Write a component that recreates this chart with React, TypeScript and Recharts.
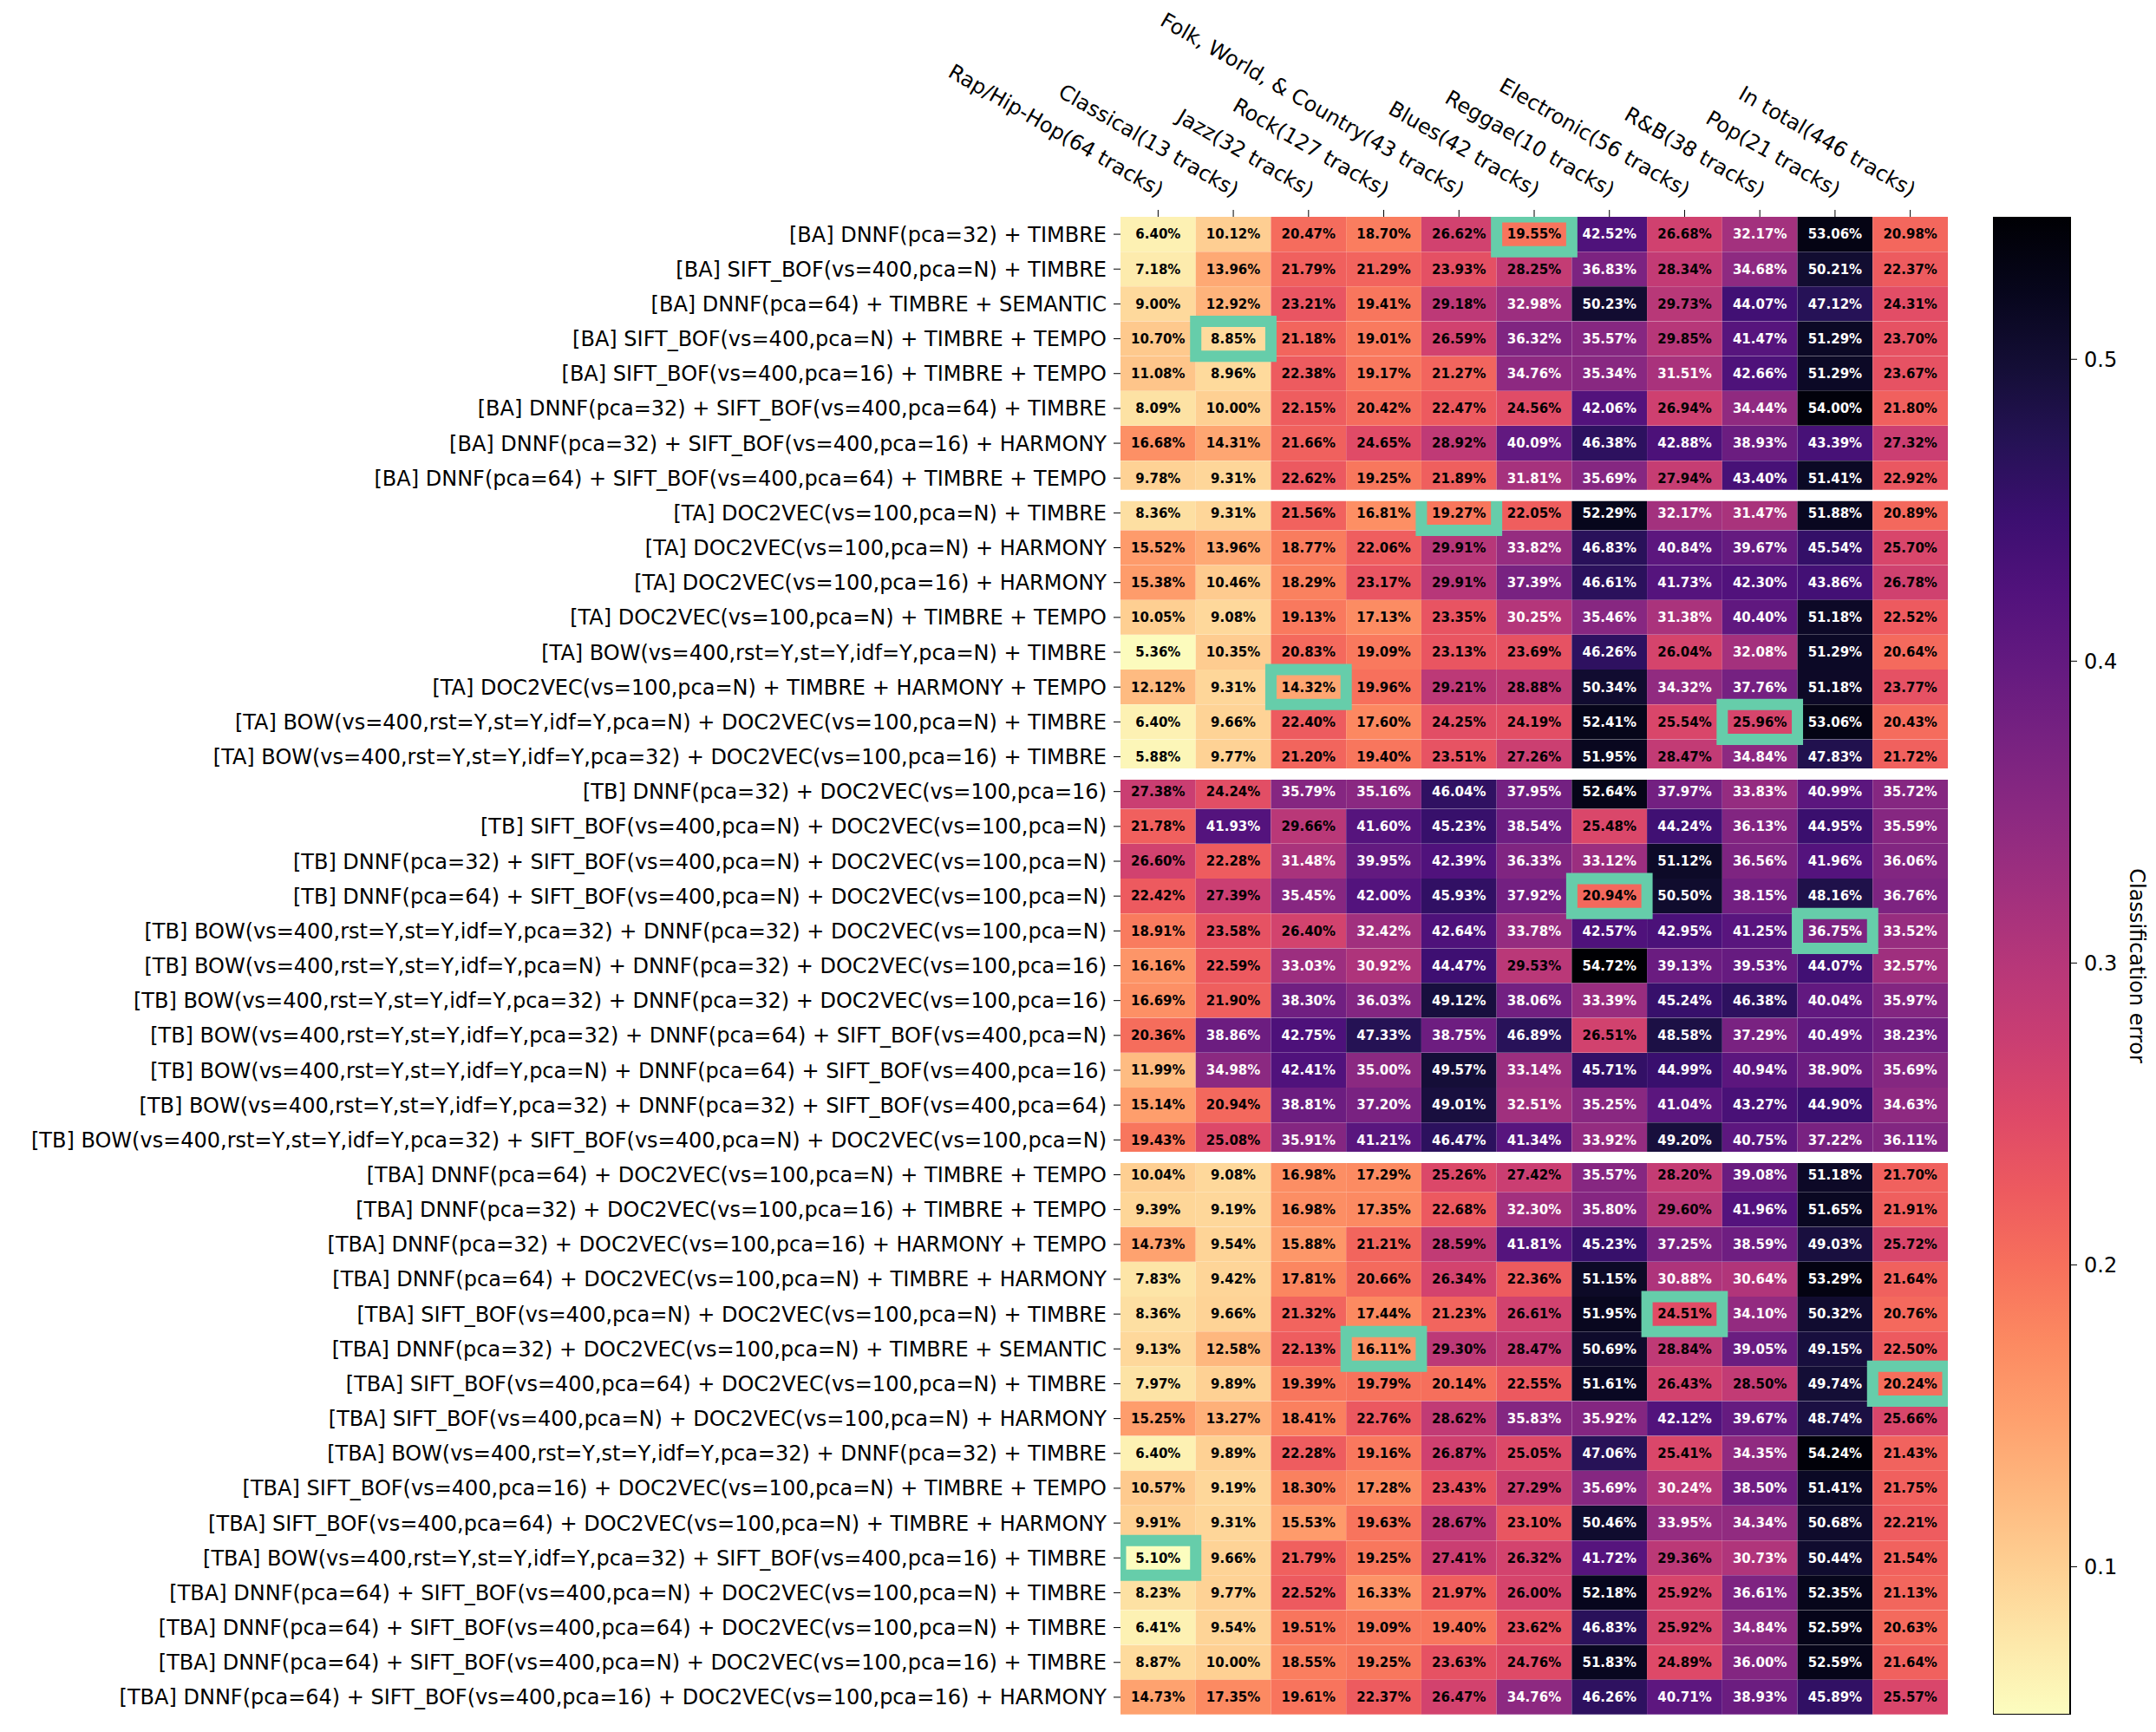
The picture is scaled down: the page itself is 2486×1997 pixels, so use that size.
import React from "react";
import {
  Bar,
  BarChart,
  Cell,
  LabelList,
  ReferenceArea,
  ReferenceLine,
  XAxis,
  YAxis,
} from "recharts";

// column headers (genres)
const genres = [
  "Rap/Hip-Hop(64 tracks)",
  "Classical(13 tracks)",
  "Jazz(32 tracks)",
  "Rock(127 tracks)",
  "Folk, World, & Country(43 tracks)",
  "Blues(42 tracks)",
  "Reggae(10 tracks)",
  "Electronic(56 tracks)",
  "R&B(38 tracks)",
  "Pop(21 tracks)",
  "In total(446 tracks)",
];

// row labels, one list per group
const baLabels = [
  "[BA] DNNF(pca=32) + TIMBRE",
  "[BA] SIFT_BOF(vs=400,pca=N) + TIMBRE",
  "[BA] DNNF(pca=64) + TIMBRE + SEMANTIC",
  "[BA] SIFT_BOF(vs=400,pca=N) + TIMBRE + TEMPO",
  "[BA] SIFT_BOF(vs=400,pca=16) + TIMBRE + TEMPO",
  "[BA] DNNF(pca=32) + SIFT_BOF(vs=400,pca=64) + TIMBRE",
  "[BA] DNNF(pca=32) + SIFT_BOF(vs=400,pca=16) + HARMONY",
  "[BA] DNNF(pca=64) + SIFT_BOF(vs=400,pca=64) + TIMBRE + TEMPO",
];
const taLabels = [
  "[TA] DOC2VEC(vs=100,pca=N) + TIMBRE",
  "[TA] DOC2VEC(vs=100,pca=N) + HARMONY",
  "[TA] DOC2VEC(vs=100,pca=16) + HARMONY",
  "[TA] DOC2VEC(vs=100,pca=N) + TIMBRE + TEMPO",
  "[TA] BOW(vs=400,rst=Y,st=Y,idf=Y,pca=N) + TIMBRE",
  "[TA] DOC2VEC(vs=100,pca=N) + TIMBRE + HARMONY + TEMPO",
  "[TA] BOW(vs=400,rst=Y,st=Y,idf=Y,pca=N) + DOC2VEC(vs=100,pca=N) + TIMBRE",
  "[TA] BOW(vs=400,rst=Y,st=Y,idf=Y,pca=32) + DOC2VEC(vs=100,pca=16) + TIMBRE",
];
const tbLabels = [
  "[TB] DNNF(pca=32) + DOC2VEC(vs=100,pca=16)",
  "[TB] SIFT_BOF(vs=400,pca=N) + DOC2VEC(vs=100,pca=N)",
  "[TB] DNNF(pca=32) + SIFT_BOF(vs=400,pca=N) + DOC2VEC(vs=100,pca=N)",
  "[TB] DNNF(pca=64) + SIFT_BOF(vs=400,pca=N) + DOC2VEC(vs=100,pca=N)",
  "[TB] BOW(vs=400,rst=Y,st=Y,idf=Y,pca=32) + DNNF(pca=32) + DOC2VEC(vs=100,pca=N)",
  "[TB] BOW(vs=400,rst=Y,st=Y,idf=Y,pca=N) + DNNF(pca=32) + DOC2VEC(vs=100,pca=16)",
  "[TB] BOW(vs=400,rst=Y,st=Y,idf=Y,pca=32) + DNNF(pca=32) + DOC2VEC(vs=100,pca=16)",
  "[TB] BOW(vs=400,rst=Y,st=Y,idf=Y,pca=32) + DNNF(pca=64) + SIFT_BOF(vs=400,pca=N)",
  "[TB] BOW(vs=400,rst=Y,st=Y,idf=Y,pca=N) + DNNF(pca=64) + SIFT_BOF(vs=400,pca=16)",
  "[TB] BOW(vs=400,rst=Y,st=Y,idf=Y,pca=32) + DNNF(pca=32) + SIFT_BOF(vs=400,pca=64)",
  "[TB] BOW(vs=400,rst=Y,st=Y,idf=Y,pca=32) + SIFT_BOF(vs=400,pca=N) + DOC2VEC(vs=100,pca=N)",
];
const tbaLabels = [
  "[TBA] DNNF(pca=64) + DOC2VEC(vs=100,pca=N) + TIMBRE + TEMPO",
  "[TBA] DNNF(pca=32) + DOC2VEC(vs=100,pca=16) + TIMBRE + TEMPO",
  "[TBA] DNNF(pca=32) + DOC2VEC(vs=100,pca=16) + HARMONY + TEMPO",
  "[TBA] DNNF(pca=64) + DOC2VEC(vs=100,pca=N) + TIMBRE + HARMONY",
  "[TBA] SIFT_BOF(vs=400,pca=N) + DOC2VEC(vs=100,pca=N) + TIMBRE",
  "[TBA] DNNF(pca=32) + DOC2VEC(vs=100,pca=N) + TIMBRE + SEMANTIC",
  "[TBA] SIFT_BOF(vs=400,pca=64) + DOC2VEC(vs=100,pca=N) + TIMBRE",
  "[TBA] SIFT_BOF(vs=400,pca=N) + DOC2VEC(vs=100,pca=N) + HARMONY",
  "[TBA] BOW(vs=400,rst=Y,st=Y,idf=Y,pca=32) + DNNF(pca=32) + TIMBRE",
  "[TBA] SIFT_BOF(vs=400,pca=16) + DOC2VEC(vs=100,pca=N) + TIMBRE + TEMPO",
  "[TBA] SIFT_BOF(vs=400,pca=64) + DOC2VEC(vs=100,pca=N) + TIMBRE + HARMONY",
  "[TBA] BOW(vs=400,rst=Y,st=Y,idf=Y,pca=32) + SIFT_BOF(vs=400,pca=16) + TIMBRE",
  "[TBA] DNNF(pca=64) + SIFT_BOF(vs=400,pca=N) + DOC2VEC(vs=100,pca=N) + TIMBRE",
  "[TBA] DNNF(pca=64) + SIFT_BOF(vs=400,pca=64) + DOC2VEC(vs=100,pca=N) + TIMBRE",
  "[TBA] DNNF(pca=64) + SIFT_BOF(vs=400,pca=N) + DOC2VEC(vs=100,pca=16) + TIMBRE",
  "[TBA] DNNF(pca=64) + SIFT_BOF(vs=400,pca=16) + DOC2VEC(vs=100,pca=16) + HARMONY",
];

// classification error (%) per genre, rows in the order above
const rapHipHop = [
  6.40, 7.18, 9.00, 10.70, 11.08, 8.09, 16.68, 9.78,
  8.36, 15.52, 15.38, 10.05, 5.36, 12.12, 6.40, 5.88,
  27.38, 21.78, 26.60, 22.42, 18.91, 16.16, 16.69, 20.36, 11.99, 15.14, 19.43,
  10.04, 9.39, 14.73, 7.83, 8.36, 9.13, 7.97, 15.25, 6.40, 10.57, 9.91, 5.10, 8.23, 6.41, 8.87, 14.73,
];
const classical = [
  10.12, 13.96, 12.92, 8.85, 8.96, 10.00, 14.31, 9.31,
  9.31, 13.96, 10.46, 9.08, 10.35, 9.31, 9.66, 9.77,
  24.24, 41.93, 22.28, 27.39, 23.58, 22.59, 21.90, 38.86, 34.98, 20.94, 25.08,
  9.08, 9.19, 9.54, 9.42, 9.66, 12.58, 9.89, 13.27, 9.89, 9.19, 9.31, 9.66, 9.77, 9.54, 10.00, 17.35,
];
const jazz = [
  20.47, 21.79, 23.21, 21.18, 22.38, 22.15, 21.66, 22.62,
  21.56, 18.77, 18.29, 19.13, 20.83, 14.32, 22.40, 21.20,
  35.79, 29.66, 31.48, 35.45, 26.40, 33.03, 38.30, 42.75, 42.41, 38.81, 35.91,
  16.98, 16.98, 15.88, 17.81, 21.32, 22.13, 19.39, 18.41, 22.28, 18.30, 15.53, 21.79, 22.52, 19.51, 18.55, 19.61,
];
const rock = [
  18.70, 21.29, 19.41, 19.01, 19.17, 20.42, 24.65, 19.25,
  16.81, 22.06, 23.17, 17.13, 19.09, 19.96, 17.60, 19.40,
  35.16, 41.60, 39.95, 42.00, 32.42, 30.92, 36.03, 47.33, 35.00, 37.20, 41.21,
  17.29, 17.35, 21.21, 20.66, 17.44, 16.11, 19.79, 22.76, 19.16, 17.28, 19.63, 19.25, 16.33, 19.09, 19.25, 22.37,
];
const folk = [
  26.62, 23.93, 29.18, 26.59, 21.27, 22.47, 28.92, 21.89,
  19.27, 29.91, 29.91, 23.35, 23.13, 29.21, 24.25, 23.51,
  46.04, 45.23, 42.39, 45.93, 42.64, 44.47, 49.12, 38.75, 49.57, 49.01, 46.47,
  25.26, 22.68, 28.59, 26.34, 21.23, 29.30, 20.14, 28.62, 26.87, 23.43, 28.67, 27.41, 21.97, 19.40, 23.63, 26.47,
];
const blues = [
  19.55, 28.25, 32.98, 36.32, 34.76, 24.56, 40.09, 31.81,
  22.05, 33.82, 37.39, 30.25, 23.69, 28.88, 24.19, 27.26,
  37.95, 38.54, 36.33, 37.92, 33.78, 29.53, 38.06, 46.89, 33.14, 32.51, 41.34,
  27.42, 32.30, 41.81, 22.36, 26.61, 28.47, 22.55, 35.83, 25.05, 27.29, 23.10, 26.32, 26.00, 23.62, 24.76, 34.76,
];
const reggae = [
  42.52, 36.83, 50.23, 35.57, 35.34, 42.06, 46.38, 35.69,
  52.29, 46.83, 46.61, 35.46, 46.26, 50.34, 52.41, 51.95,
  52.64, 25.48, 33.12, 20.94, 42.57, 54.72, 33.39, 26.51, 45.71, 35.25, 33.92,
  35.57, 35.80, 45.23, 51.15, 51.95, 50.69, 51.61, 35.92, 47.06, 35.69, 50.46, 41.72, 52.18, 46.83, 51.83, 46.26,
];
const electronic = [
  26.68, 28.34, 29.73, 29.85, 31.51, 26.94, 42.88, 27.94,
  32.17, 40.84, 41.73, 31.38, 26.04, 34.32, 25.54, 28.47,
  37.97, 44.24, 51.12, 50.50, 42.95, 39.13, 45.24, 48.58, 44.99, 41.04, 49.20,
  28.20, 29.60, 37.25, 30.88, 24.51, 28.84, 26.43, 42.12, 25.41, 30.24, 33.95, 29.36, 25.92, 25.92, 24.89, 40.71,
];
const rnb = [
  32.17, 34.68, 44.07, 41.47, 42.66, 34.44, 38.93, 43.40,
  31.47, 39.67, 42.30, 40.40, 32.08, 37.76, 25.96, 34.84,
  33.83, 36.13, 36.56, 38.15, 41.25, 39.53, 46.38, 37.29, 40.94, 43.27, 40.75,
  39.08, 41.96, 38.59, 30.64, 34.10, 39.05, 28.50, 39.67, 34.35, 38.50, 34.34, 30.73, 36.61, 34.84, 36.00, 38.93,
];
const pop = [
  53.06, 50.21, 47.12, 51.29, 51.29, 54.00, 43.39, 51.41,
  51.88, 45.54, 43.86, 51.18, 51.29, 51.18, 53.06, 47.83,
  40.99, 44.95, 41.96, 48.16, 36.75, 44.07, 40.04, 40.49, 38.90, 44.90, 37.22,
  51.18, 51.65, 49.03, 53.29, 50.32, 49.15, 49.74, 48.74, 54.24, 51.41, 50.68, 50.44, 52.35, 52.59, 52.59, 45.89,
];
const inTotal = [
  20.98, 22.37, 24.31, 23.70, 23.67, 21.80, 27.32, 22.92,
  20.89, 25.70, 26.78, 22.52, 20.64, 23.77, 20.43, 21.72,
  35.72, 35.59, 36.06, 36.76, 33.52, 32.57, 35.97, 38.23, 35.69, 34.63, 36.11,
  21.70, 21.91, 25.72, 21.64, 20.76, 22.50, 20.24, 25.66, 21.43, 21.75, 22.21, 21.54, 21.13, 20.63, 21.64, 25.57,
];

const colorbarTicks = [0.1, 0.2, 0.3, 0.4, 0.5];

const series = [rapHipHop, classical, jazz, rock, folk, blues, reggae, electronic, rnb, pop, inTotal];
const groups = [baLabels, taLabels, tbLabels, tbaLabels];
const rowLabels = groups.flat();

// boundaries between groups (index of the first row of each later group)
const groupStarts: number[] = [];
groups.reduce((acc, g, i) => {
  if (i > 0) groupStarts.push(acc);
  return acc + g.length;
}, 0);

const allValues = series.flat();
const vmin = Math.min(...allValues);
const vmax = Math.max(...allValues);

// magma colormap, 21 samples from 0 (dark) to 1 (light)
const magmaStops = [
  "#000004", "#07061c", "#140e36", "#251255", "#3b0f70", "#51127c", "#641a80",
  "#782281", "#8c2981", "#a1307e", "#b73779", "#ca3e72", "#de4968", "#ed5a5f",
  "#f7705c", "#fc8961", "#fe9f6d", "#feb77e", "#fecf92", "#fde7a9", "#fcfdbf",
];

function hexRgb(h: string) {
  return [1, 3, 5].map((i) => parseInt(h.slice(i, i + 2), 16));
}

function magma(p: number) {
  const s = Math.max(0, Math.min(1, p)) * (magmaStops.length - 1);
  const i = Math.min(Math.floor(s), magmaStops.length - 2);
  const f = s - i;
  const a = hexRgb(magmaStops[i]);
  const b = hexRgb(magmaStops[i + 1]);
  const c = a.map((v, j) => Math.round(v + (b[j] - v) * f));
  return `rgb(${c[0]},${c[1]},${c[2]})`;
}

// reversed magma: low error = light
function cellColor(v: number) {
  return magma(1 - (v - vmin) / (vmax - vmin));
}

const rows = rowLabels.map((label, i) => {
  const r: any = { key: `r${i}`, label };
  series.forEach((s, k) => {
    r[`c${k}`] = 1;
    r[`v${k}`] = s[i];
  });
  return r;
});

const labelByKey: Record<string, string> = {};
rows.forEach((r) => (labelByKey[r.key] = r.label));

// best (lowest) result per genre gets a box
const bestRow = series.map((s) => s.indexOf(Math.min(...s)));

const GenreTick = (props: any) => {
  const { x, y, payload } = props;
  const label = genres[Math.round(payload.value - 0.5)];
  return (
    <g transform={`translate(${x},${y - 14}) rotate(30)`}>
      <text x={0} y={0} textAnchor="end" fontSize={24} fill="#000">
        {label}
      </text>
    </g>
  );
};

const renderAnnot = (props: any) => {
  const { x, y, width, height, value } = props;
  return (
    <text
      x={x + width / 2}
      y={y + height / 2}
      dy="0.36em"
      textAnchor="middle"
      fontSize={15}
      fontWeight="bold"
      fill={value < 30 ? "#000" : "#fff"}
    >
      {value.toFixed(2)}%
    </text>
  );
};

const colorbarData = [{ name: "cb", range: [vmin / 100, vmax / 100] }];

export default function App() {
  return (
    <div
      style={{
        position: "relative",
        width: 2486,
        height: 1997,
        overflow: "hidden",
        background: "#fff",
        fontFamily: '"DejaVu Sans", sans-serif',
      }}
    >
      <style>{"body { margin: 0; }"}</style>
      <div style={{ position: "absolute", left: 0, top: 0 }}>
        <BarChart
          width={2260}
          height={1997}
          data={rows}
          layout="vertical"
          barCategoryGap={0}
          barGap={0}
          margin={{ top: 0, right: 14, bottom: 20, left: 0 }}
        >
          <XAxis
            type="number"
            orientation="top"
            domain={[0, genres.length]}
            ticks={genres.map((_, i) => i + 0.5)}
            interval={0}
            height={250}
            axisLine={false}
            tickLine={{ stroke: "#000" }}
            tickSize={8}
            tickMargin={0}
            tick={<GenreTick />}
            allowDataOverflow
          />
          <YAxis
            type="category"
            dataKey="key"
            width={1292}
            interval={0}
            axisLine={false}
            tickLine={{ stroke: "#000" }}
            tickSize={8}
            tickMargin={8}
            tickFormatter={(k: string) => labelByKey[k]}
            tick={{ fill: "#000", fontSize: 24 }}
          />
          {genres.map((g, k) => (
            <Bar key={g} dataKey={`c${k}`} stackId="cells" isAnimationActive={false}>
              {rows.map((r, i) => (
                <Cell key={r.key} fill={cellColor(series[k][i])} />
              ))}
              <LabelList dataKey={`v${k}`} content={renderAnnot} />
            </Bar>
          ))}
          {bestRow.map((ri, k) => (
            <ReferenceArea
              key={`best-${k}`}
              x1={k}
              x2={k + 1}
              y1={`r${ri}`}
              y2={`r${ri}`}
              fill="none"
              fillOpacity={0}
              stroke="#66cdaa"
              strokeWidth={13}
              ifOverflow="hidden"
              zIndex={350}
            />
          ))}
          {groupStarts.map((s) => (
            <ReferenceLine
              key={`sep-${s}`}
              y={`r${s}`}
              position="start"
              stroke="#fff"
              strokeWidth={13}
              zIndex={360}
            />
          ))}
        </BarChart>
      </div>
      <div style={{ position: "absolute", left: 2298, top: 0 }}>
        <BarChart
          width={245}
          height={1997}
          data={colorbarData}
          barCategoryGap={0}
          margin={{ top: 250, right: 0, bottom: 20, left: 0 }}
        >
          <defs>
            <linearGradient id="cbGrad" x1="0" y1="0" x2="0" y2="1">
              {magmaStops.map((c, i) => (
                <stop key={i} offset={i / (magmaStops.length - 1)} stopColor={c} />
              ))}
            </linearGradient>
          </defs>
          <XAxis dataKey="name" type="category" hide />
          <YAxis
            orientation="right"
            type="number"
            domain={[vmin / 100, vmax / 100]}
            ticks={colorbarTicks}
            tickFormatter={(v: number) => v.toFixed(1)}
            width={156}
            axisLine={false}
            tickLine={{ stroke: "#000" }}
            tickSize={8}
            tickMargin={8}
            tick={{ fill: "#000", fontSize: 24 }}
            allowDataOverflow
            label={{
              value: "Classification error",
              angle: 90,
              position: "center",
              fontSize: 24,
              fill: "#000",
            }}
          />
          <Bar
            dataKey="range"
            fill="url(#cbGrad)"
            stroke="#000"
            strokeWidth={2}
            isAnimationActive={false}
          />
        </BarChart>
      </div>
    </div>
  );
}
